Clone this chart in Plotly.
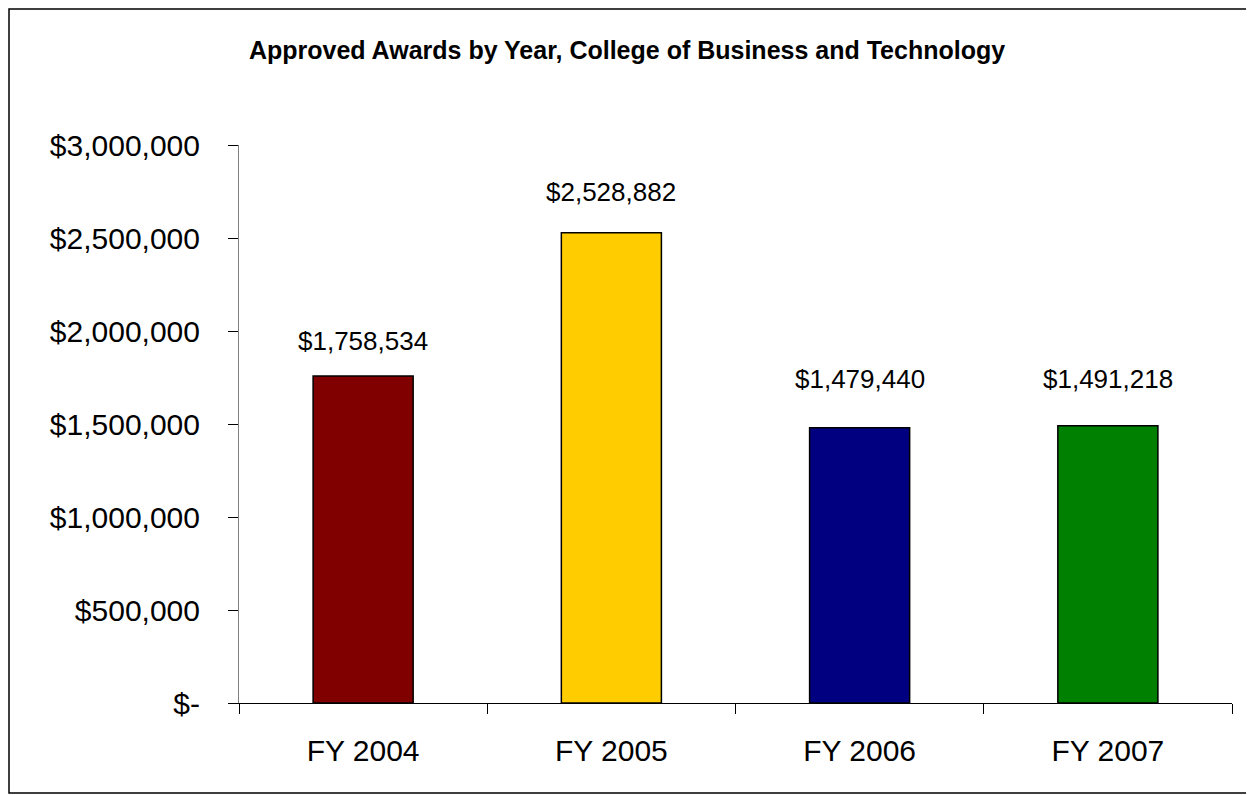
import plotly.graph_objects as go

categories = ["FY 2004", "FY 2005", "FY 2006", "FY 2007"]
awards = [1758534, 2528882, 1479440, 1491218]
bar_colors = ["#800000", "#FFCC00", "#000080", "#008000"]
y_ticks = [0, 500000, 1000000, 1500000, 2000000, 2500000, 3000000]

# labels were nudged by hand in the original, so each gets its own lift (px)
label_lift = [18, 24, 32, 30]


def money(v):
    return "$-" if v == 0 else f"${v:,.0f}"


# page body has an 8px margin, so the figure is a bit smaller than the window
W, H = 1246, 787
L, R, T, B = 231, 22, 137, 92
pw, ph = W - L - R, H - T - B

fig = go.Figure()
fig.add_trace(
    go.Bar(
        x=categories,
        y=awards,
        marker=dict(color=bar_colors, line=dict(color="black", width=1.5)),
        hoverinfo="x+y",
    )
)

for cat, val, lift in zip(categories, awards, label_lift):
    fig.add_annotation(
        x=cat, y=val, text=money(val), showarrow=False,
        yanchor="bottom", yshift=lift,
        font=dict(family="Liberation Sans, Arial", size=26, color="black"),
    )

# outer chart border
fig.add_shape(
    type="rect", xref="paper", yref="paper",
    x0=(1 - L) / pw, x1=(1242 - L) / pw,
    y0=(H - B - 785) / ph, y1=(H - B - 1) / ph,
    line=dict(color="black", width=1.5),
)

fig.update_layout(
    width=W, height=H,
    margin=dict(l=L, r=R, t=T, b=B),
    paper_bgcolor="white", plot_bgcolor="white",
    showlegend=False,
    bargap=0.597,
    title=dict(
        text="<b>Approved Awards by Year, College of Business and Technology</b>",
        x=619 / W, xref="container", xanchor="center",
        y=1 - 42 / H, yref="container", yanchor="middle",
        font=dict(family="Liberation Sans, Arial", size=25, color="black"),
    ),
    font=dict(family="Liberation Sans, Arial", color="black"),
)
fig.update_xaxes(
    type="category", tickson="boundaries",
    ticks="outside", ticklen=10, tickcolor="black",
    showline=True, linecolor="black", linewidth=1,
    showgrid=False, ticklabelstandoff=21,
    tickfont=dict(size=30, color="black"),
)
fig.update_yaxes(
    range=[0, 3000000],
    tickvals=y_ticks, ticktext=[money(v) for v in y_ticks],
    ticks="outside", ticklen=10, tickcolor="black",
    showline=True, linecolor="#808080", linewidth=1,
    showgrid=False, zeroline=False, ticklabelstandoff=22,
    tickfont=dict(size=30, color="black"),
)

fig.write_html("out.html")
